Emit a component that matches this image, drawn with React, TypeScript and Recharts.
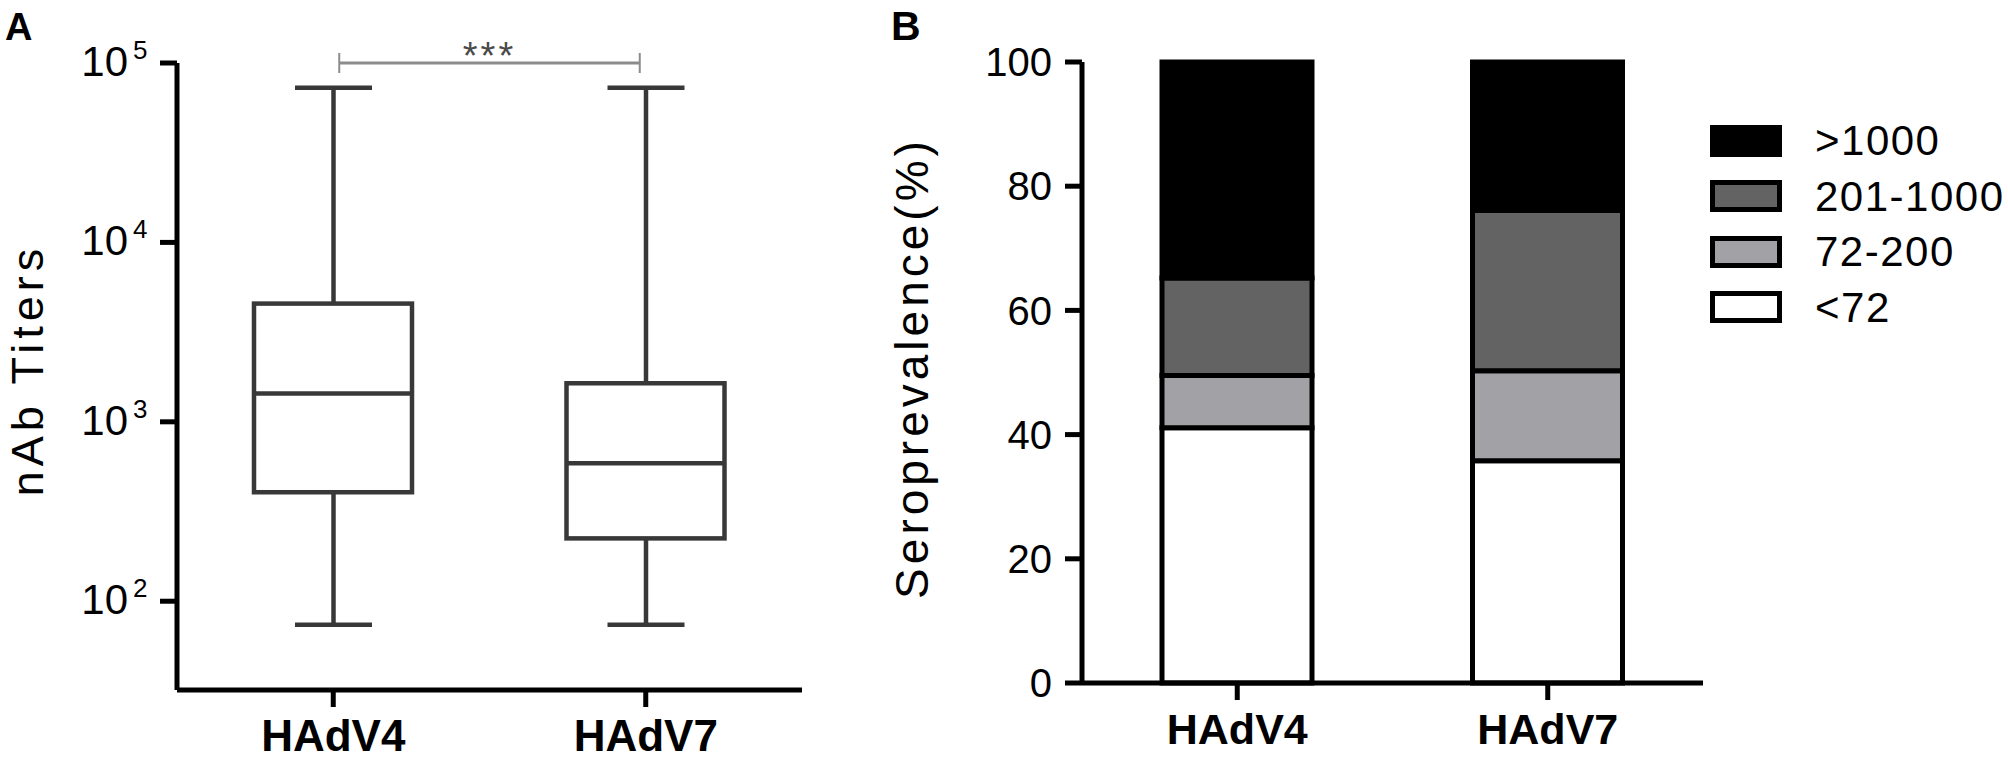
import React from "react";
import { ComposedChart, BarChart, Bar, Scatter, XAxis, YAxis, ReferenceLine, Legend } from "recharts";

// groups shared by both panels
const groups = ["HAdV4", "HAdV7"];

// panel A: nAb titer box plot (min / q1 / median / q3 / max)
const titerMin = [74, 74];
const titerQ1 = [405, 224];
const titerMedian = [1440, 587];
const titerQ3 = [4560, 1640];
const titerMax = [72900, 72900];
const titerTicks = [100, 1000, 10000, 100000];

// panel B: seroprevalence by titer band (bottom to top)
const bands = ["<72", "72-200", "201-1000", ">1000"];
const bandColors = ["#ffffff", "#a2a2a6", "#636363", "#000000"];
const seroHAdV4 = [41.1, 8.4, 15.7, 34.8];
const seroHAdV7 = [35.8, 14.5, 25.8, 23.9];
const seroTicks = [0, 20, 40, 60, 80, 100];

const FONT = "'Liberation Sans', Arial, Helvetica, sans-serif";
const boxStroke = "#383838";

const boxData = groups.map((g, i) => ({
  group: g,
  min: titerMin[i],
  q1: titerQ1[i],
  median: titerMedian[i],
  q3: titerQ3[i],
  max: titerMax[i],
}));

const seroRows = [seroHAdV4, seroHAdV7];
const seroData = groups.map((g, i) => {
  const row: Record<string, any> = { group: g };
  bands.forEach((_, k) => {
    row[`b${k}`] = seroRows[i][k];
  });
  return row;
});

const WhiskerShape = (props: any) => {
  const { x, y, width, height } = props;
  const top = Math.min(y, y + height);
  const bottom = Math.max(y, y + height);
  const cx = x + width / 2;
  return (
    <g stroke={boxStroke} strokeWidth={4.5}>
      <line x1={cx} y1={top} x2={cx} y2={bottom} />
      <line x1={x} y1={top} x2={x + width} y2={top} />
      <line x1={x} y1={bottom} x2={x + width} y2={bottom} />
    </g>
  );
};

const BoxShape = (props: any) => {
  const { x, y, width, height } = props;
  const top = Math.min(y, y + height);
  return (
    <rect x={x} y={top} width={width} height={Math.abs(height)} fill="#fff" stroke={boxStroke} strokeWidth={4.5} />
  );
};

const MedianShape = (props: any) => {
  const { cx, cy } = props;
  return <line x1={cx - 79} y1={cy} x2={cx + 79} y2={cy} stroke={boxStroke} strokeWidth={4.5} />;
};

const BracketShape = (props: any) => {
  const { x1, x2, y1 } = props;
  const a = x1 + 6;
  const b = x2 - 6;
  return (
    <g>
      <line x1={a} y1={y1} x2={b} y2={y1} stroke="#8c8c8c" strokeWidth={3} />
      <line x1={a} y1={y1 - 10} x2={a} y2={y1 + 10} stroke="#8c8c8c" strokeWidth={2} />
      <line x1={b} y1={y1 - 10} x2={b} y2={y1 + 10} stroke="#8c8c8c" strokeWidth={2} />
      <text x={(a + b) / 2} y={y1 + 6} textAnchor="middle" fontSize={38} fill="#4a4a4a" style={{ letterSpacing: 3 }}>
        ***
      </text>
    </g>
  );
};

const PowerTick = (props: any) => {
  const { x, y, payload } = props;
  const exp = Math.round(Math.log10(payload.value));
  return (
    <g>
      <text x={x - 32} y={y + 13} textAnchor="end" fontSize={42} fill="#000">
        10
      </text>
      <text x={x - 27} y={y - 4} textAnchor="start" fontSize={26} fill="#000">
        {exp}
      </text>
    </g>
  );
};

const AxisTitle = (props: any) => {
  const { bx, cy, value, size, spacing } = props;
  return (
    <text
      x={bx}
      y={cy}
      transform={`rotate(-90, ${bx}, ${cy})`}
      textAnchor="middle"
      fontSize={size}
      fill="#000"
      style={{ letterSpacing: spacing }}
    >
      {value}
    </text>
  );
};

const SeroLegend = () => (
  <div style={{ fontFamily: FONT }}>
    {[3, 2, 1, 0].map((k) => (
      <div key={k} style={{ display: "flex", alignItems: "center", height: 55.5 }}>
        <svg width={72} height={32}>
          <rect x={2.5} y={2.5} width={67} height={27} fill={bandColors[k]} stroke="#000" strokeWidth={5} />
        </svg>
        <span style={{ marginLeft: 33, fontSize: 42, lineHeight: "55px", letterSpacing: 1.5, color: "#000" }}>
          {bands[k]}
        </span>
      </div>
    ))}
  </div>
);

export default function App() {
  return (
    <div style={{ position: "absolute", left: 0, top: 0, width: 2008, height: 760, background: "#fff", fontFamily: FONT }}>
      {/* panel A */}
      <div style={{ position: "absolute", left: 0, top: 0 }}>
        <ComposedChart width={820} height={760} data={boxData} margin={{ top: 63, right: 18, bottom: 0, left: 0 }}>
          <XAxis
            xAxisId="box"
            dataKey="group"
            height={70}
            tickSize={17}
            tickMargin={13}
            axisLine={{ stroke: "#000", strokeWidth: 5 }}
            tickLine={{ stroke: "#000", strokeWidth: 5 }}
            tick={{ fontSize: 44, fontWeight: "bold", fill: "#000" }}
          />
          <XAxis xAxisId="whisker" dataKey="group" hide />
          <YAxis
            scale="log"
            domain={[32, 100000]}
            allowDataOverflow
            ticks={titerTicks}
            interval={0}
            width={177}
            tickSize={17}
            tickMargin={0}
            axisLine={{ stroke: "#000", strokeWidth: 5 }}
            tickLine={{ stroke: "#000", strokeWidth: 5 }}
            tick={<PowerTick />}
            label={<AxisTitle bx={43} cy={370} value="nAb Titers" size={45} spacing={5} />}
          />
          <Bar
            xAxisId="whisker"
            dataKey={(d: any) => [d.min, d.max]}
            barSize={77}
            shape={<WhiskerShape />}
            isAnimationActive={false}
          />
          <Bar
            xAxisId="box"
            dataKey={(d: any) => [d.q1, d.q3]}
            barSize={158}
            shape={<BoxShape />}
            isAnimationActive={false}
          />
          <Scatter xAxisId="box" dataKey="median" shape={<MedianShape />} isAnimationActive={false} />
          <ReferenceLine
            xAxisId="box"
            segment={[
              { x: "HAdV4", y: 100000 },
              { x: "HAdV7", y: 100000 },
            ]}
            ifOverflow="visible"
            shape={<BracketShape />}
          />
        </ComposedChart>
      </div>

      {/* panel B */}
      <div style={{ position: "absolute", left: 830, top: 0 }}>
        <BarChart width={1178} height={760} data={seroData} margin={{ top: 62, right: 305, bottom: 0, left: 0 }}>
          <XAxis
            dataKey="group"
            height={77}
            tickSize={17}
            tickMargin={13}
            axisLine={{ stroke: "#000", strokeWidth: 5 }}
            tickLine={{ stroke: "#000", strokeWidth: 5 }}
            tick={{ fontSize: 43, fontWeight: "bold", fill: "#000" }}
          />
          <YAxis
            domain={[0, 100]}
            ticks={seroTicks}
            interval={0}
            width={252}
            tickSize={17}
            tickMargin={13}
            axisLine={{ stroke: "#000", strokeWidth: 5 }}
            tickLine={{ stroke: "#000", strokeWidth: 5 }}
            tick={{ fontSize: 40, fill: "#000" }}
            label={<AxisTitle bx={98} cy={368} value="Seroprevalence(%)" size={46} spacing={4} />}
          />
          {bands.map((name, k) => (
            <Bar
              key={name}
              dataKey={`b${k}`}
              name={name}
              stackId="sero"
              barSize={150}
              fill={bandColors[k]}
              stroke="#000"
              strokeWidth={5}
              isAnimationActive={false}
            />
          ))}
          <Legend
            layout="vertical"
            align="center"
            verticalAlign="middle"
            content={<SeroLegend />}
            wrapperStyle={{ left: 880, top: 113, width: 300, height: 230 }}
          />
        </BarChart>
      </div>

      {/* panel letters */}
      <svg width={2008} height={760} style={{ position: "absolute", left: 0, top: 0, pointerEvents: "none" }}>
        <text x={5} y={40} fontSize={38} fontWeight="bold" fill="#000">
          A
        </text>
        <text x={891} y={40} fontSize={41} fontWeight="bold" fill="#000">
          B
        </text>
      </svg>
    </div>
  );
}
